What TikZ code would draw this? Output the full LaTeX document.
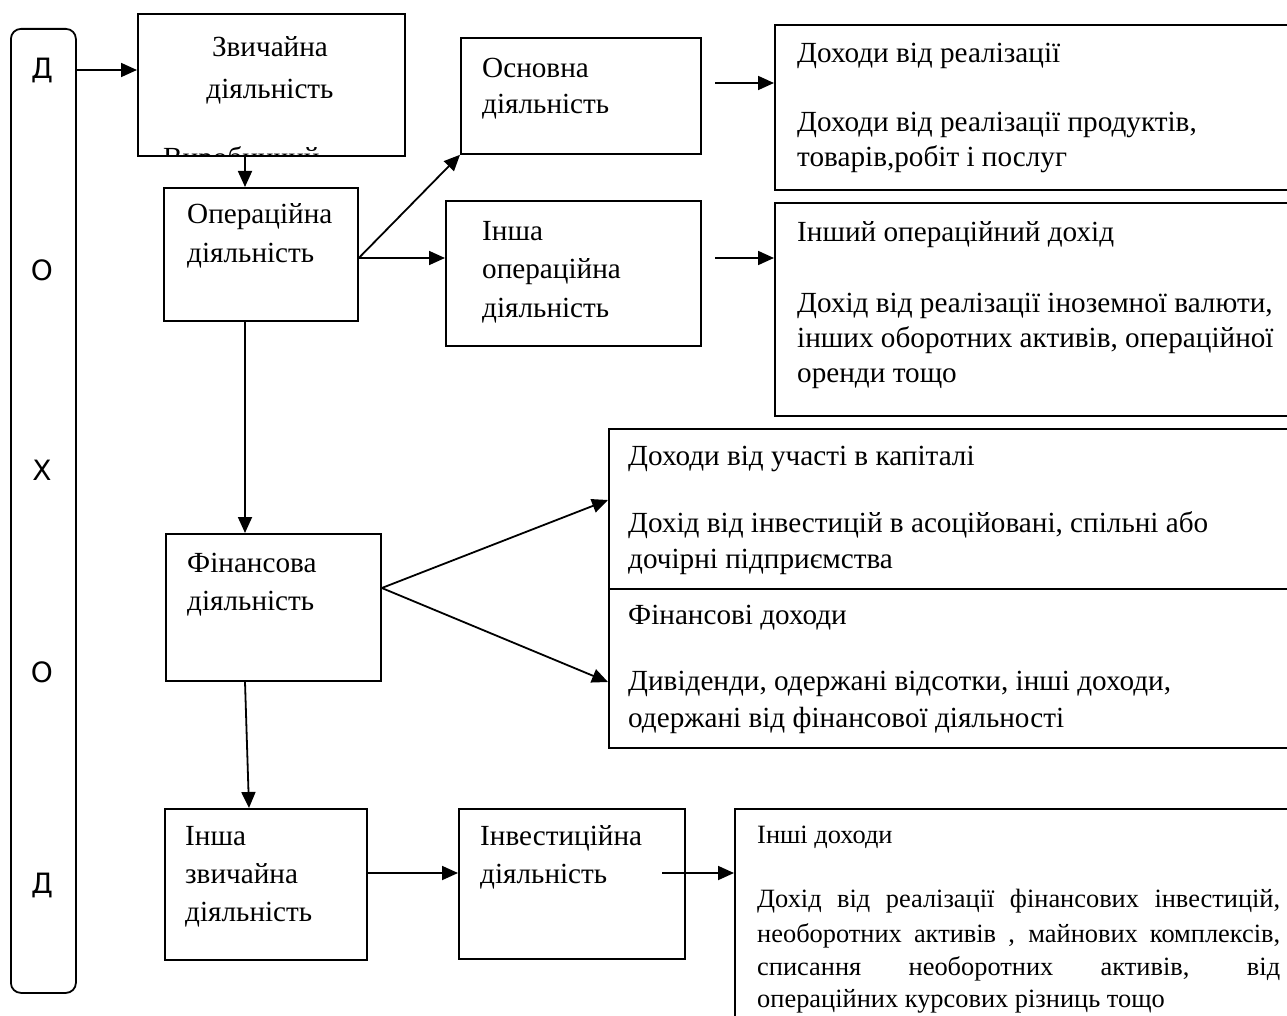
\documentclass[tikz,border=0pt]{standalone}
\usepackage{fontspec}
\setmainfont{Liberation Serif}
\newfontfamily\sansfam{DejaVu Sans}
\usetikzlibrary{arrows.meta}
\tikzset{
  bx/.style={draw, line width=1.8pt, rectangle, inner sep=0pt, anchor=north west},
  arr/.style={line width=1.8pt, -{Triangle[length=16pt,width=14pt]}},
  tx/.style={anchor=base west, inner sep=0pt, font=\fontsize{29.2}{35}\selectfont},
  txs/.style={anchor=base west, inner sep=0pt, font=\fontsize{26.4}{32}\selectfont},
  lt/.style={inner sep=0pt, font=\sansfam\fontsize{28}{32}\selectfont},
}
\newcommand\tln[4]{\node[tx] (#1) at (#2,#3) {#4};}
\newcommand\sln[4]{\node[txs] (#1) at (#2,#3) {#4};}
\begin{document}
\begin{tikzpicture}[x=1pt,y=-1pt]
\useasboundingbox[fill=white] (0,0) rectangle (1287,1016);
\clip (0,0) rectangle (1287,1016);

% boxes
\node[bx, rounded corners=10pt, minimum width=65pt, minimum height=964pt] (dleft) at (10,28) {};
\node[bx, minimum width=267pt, minimum height=142pt] (zv) at (137,13) {};
\node[bx, minimum width=194pt, minimum height=133pt] (op) at (163,187) {};
\node[bx, minimum width=240pt, minimum height=116pt] (osn) at (460,37) {};
\node[bx, minimum width=540pt, minimum height=165pt] (dr) at (774,24) {};
\node[bx, minimum width=255pt, minimum height=145pt] (io) at (445,200) {};
\node[bx, minimum width=540pt, minimum height=213pt] (iod) at (774,202) {};
\node[bx, minimum width=700pt, minimum height=160pt] (fg1) at (608,428) {};
\node[bx, minimum width=700pt, minimum height=159pt] (fg2) at (608,588) {};
\node[bx, minimum width=215pt, minimum height=147pt] (fin) at (165,533) {};
\node[bx, minimum width=202pt, minimum height=151pt] (iz) at (164,808) {};
\node[bx, minimum width=226pt, minimum height=150pt] (inv) at (458,808) {};
\node[bx, minimum width=580pt, minimum height=230pt] (id) at (734,808) {};

% left column letters
\node[lt] (l1) at (42,70) {Д};
\node[lt] (l2) at (42,270) {О};
\node[lt] (l3) at (42,470) {Х};
\node[lt] (l4) at (42,672) {О};
\node[lt] (l5) at (42,885) {Д};

% texts
\node[tx, anchor=base] (zv1) at (270,57) {Звичайна};
\node[tx, anchor=base] (zv2) at (270,99) {діяльність};
\begin{scope}
  \clip (zv.north west) rectangle ([yshift=1pt]zv.south east);
  \tln{zv3}{163}{168}{Виробничий}
\end{scope}

\tln{op1}{187}{224}{Операційна}
\tln{op2}{187}{263}{діяльність}

\tln{os1}{482}{78}{Основна}
\tln{os2}{482}{114}{діяльність}

\tln{dr1}{797}{63}{Доходи від реалізації}
\tln{dr2}{797}{132}{Доходи від реалізації продуктів,}
\tln{dr3}{797}{167}{товарів,робіт і послуг}

\tln{io1}{482}{241}{Інша}
\tln{io2}{482}{279}{операційна}
\tln{io3}{482}{317}{діяльність}

\tln{iod1}{797}{242}{Інший операційний дохід}
\tln{iod2}{797}{312}{Дохід від реалізації іноземної валюти,}
\tln{iod3}{797}{347}{інших оборотних активів, операційної}
\tln{iod4}{797}{382}{оренди тощо}

\tln{fg11}{628}{465}{Доходи від участі в капіталі}
\tln{fg12}{628}{532}{Дохід від інвестицій в асоційовані, спільні або}
\tln{fg13}{628}{568}{дочірні підприємства}
\tln{fg21}{628}{624}{Фінансові доходи}
\tln{fg22}{628}{690}{Дивіденди, одержані відсотки, інші доходи,}
\tln{fg23}{628}{727}{одержані від фінансової діяльності}

\tln{fin1}{187}{572}{Фінансова}
\tln{fin2}{187}{610}{діяльність}

\tln{iz1}{185}{845}{Інша}
\tln{iz2}{185}{883}{звичайна}
\tln{iz3}{185}{921}{діяльність}

\tln{inv1}{480}{845}{Інвестиційна}
\tln{inv2}{480}{883}{діяльність}

\sln{id1}{757}{843}{Інші доходи}
\sln{id2}{757}{907}{\makebox[523pt][s]{Дохід від реалізації фінансових інвестицій,}}
\sln{id3}{757}{942}{\makebox[523pt][s]{необоротних активів , майнових комплексів,}}
\sln{id4}{757}{975}{\makebox[523pt][s]{списання необоротних активів, від}}
\sln{id5}{757}{1007}{операційних курсових різниць тощо}

% helper coordinates
\coordinate (r70) at (0,70);
\coordinate (r258) at (0,258);
\coordinate (r588) at (0,588);
\coordinate (r500) at (0,500);
\coordinate (r682) at (0,682);
\coordinate (r873) at (0,873);
\coordinate (c245) at (245,0);
\coordinate (c249) at (249,0);
\coordinate (a1) at (715,83);
\coordinate (a2) at (715,258);
\coordinate (a3) at (662,873);

% connectors
\draw[arr] (dleft.east |- r70) -- (zv.west |- r70);
\draw[arr] (zv.south -| c245) -- (op.north -| c245);
\draw[arr] (op.east |- r258) -- (osn.south west);
\draw[arr] (op.east |- r258) -- (io.west |- r258);
\draw[arr] (a1) -- (dr.west |- a1);
\draw[arr] (a2) -- (iod.west |- a2);
\draw[arr] (op.south -| c245) -- (fin.north -| c245);
\draw[arr] (fin.east |- r588) -- (fg1.west |- r500);
\draw[arr] (fin.east |- r588) -- (fg2.west |- r682);
\draw[arr] (fin.south -| c245) -- (iz.north -| c249);
\draw[arr] (iz.east |- r873) -- (inv.west |- r873);
\draw[arr] (a3) -- (id.west |- a3);
\end{tikzpicture}
\end{document}
